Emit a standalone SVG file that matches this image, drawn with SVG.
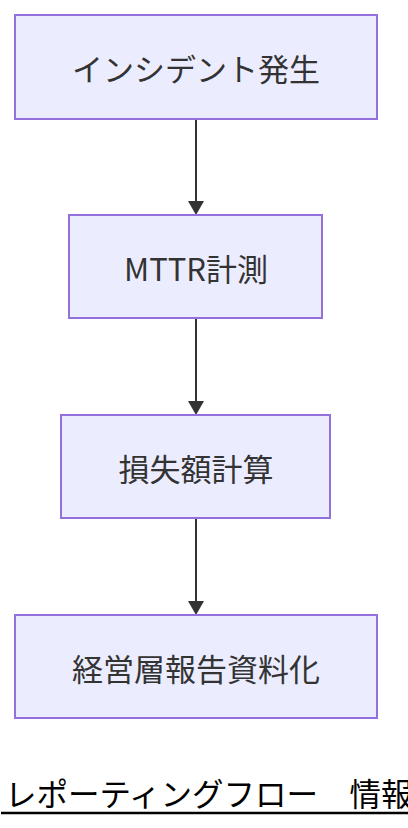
<svg xmlns="http://www.w3.org/2000/svg" width="408" height="828" viewBox="0 0 408 828">
<style>
.node rect{fill:#ECECFF;stroke:#9370DB;stroke-width:2}
.node text{font-family:"Noto Sans CJK JP","Liberation Sans",sans-serif;font-size:31px;fill:#333;text-anchor:middle;dominant-baseline:central}
.edge{stroke:#333;stroke-width:2;fill:none}
.head{fill:#333}
.title{font-family:"Noto Sans CJK JP",sans-serif;font-size:31.5px;fill:#000}
</style>
<rect width="408" height="828" fill="#fff"/>
<g id="connectors">
<path class="edge" d="M196,119 V201"/>
<path class="edge" d="M196,318 V401"/>
<path class="edge" d="M196,518 V601"/>
<polygon class="head" points="188,201 204,201 196,215"/>
<polygon class="head" points="188,401 204,401 196,415"/>
<polygon class="head" points="188,601 204,601 196,615"/>
</g>
<g id="node1" class="node"><rect x="15" y="15" width="362" height="104"/><text x="196" y="67">インシデント発生</text></g>
<g id="node2" class="node"><rect x="69" y="215" width="253" height="103"/><text x="196" y="267">MTTR計測</text></g>
<g id="node3" class="node"><rect x="61" y="415" width="269" height="103"/><text x="196" y="467">損失額計算</text></g>
<g id="node4" class="node"><rect x="15" y="615" width="362" height="103"/><text x="196" y="667">経営層報告資料化</text></g>
<g id="title">
<text class="title" x="5" y="806">レポーティングフロー　情報</text>
<line x1="1" y1="813" x2="408" y2="813" stroke="#000" stroke-width="2.5"/>
</g>
</svg>
